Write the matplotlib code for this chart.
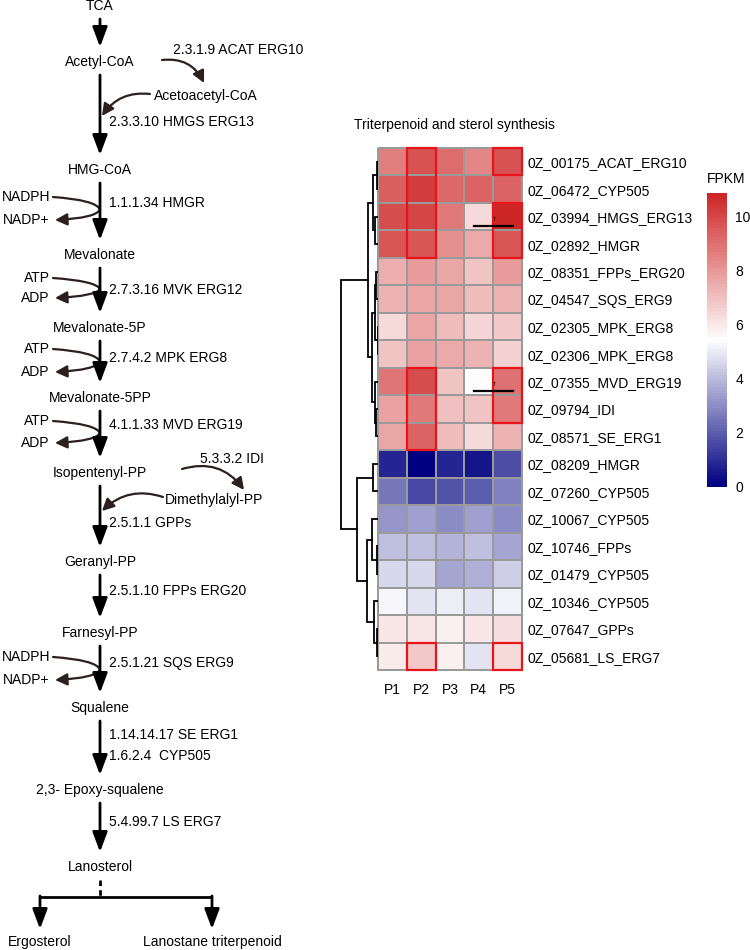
import numpy as np
import matplotlib
matplotlib.use('Agg')
import matplotlib.pyplot as plt
from matplotlib.colors import LinearSegmentedColormap
from matplotlib.patches import Rectangle, FancyArrowPatch
from matplotlib.path import Path
import matplotlib.cm as cm
import matplotlib.colors as mcolors

plt.rcParams['font.family'] = ['Liberation Sans', 'DejaVu Sans']
plt.rcParams['font.size'] = 10

# ---------------- data ----------------
genes = ['0Z_00175_ACAT_ERG10', '0Z_06472_CYP505', '0Z_03994_HMGS_ERG13',
         '0Z_02892_HMGR', '0Z_08351_FPPs_ERG20', '0Z_04547_SQS_ERG9',
         '0Z_02305_MPK_ERG8', '0Z_02306_MPK_ERG8', '0Z_07355_MVD_ERG19',
         '0Z_09794_IDI', '0Z_08571_SE_ERG1', '0Z_08209_HMGR',
         '0Z_07260_CYP505', '0Z_10067_CYP505', '0Z_10746_FPPs',
         '0Z_01479_CYP505', '0Z_10346_CYP505', '0Z_07647_GPPs',
         '0Z_05681_LS_ERG7']
samples = ['P1', 'P2', 'P3', 'P4', 'P5']

fpkm = np.array([
    [8.6, 9.7, 9.1, 8.4, 9.7],
    [9.4, 10.3, 9.2, 9.3, 9.3],
    [9.8, 10.05, 8.7, 6.3, 10.85],
    [9.6, 9.6, 8.2, 7.55, 9.6],
    [7.4, 7.9, 7.7, 6.9, 7.9],
    [7.35, 7.6, 7.7, 7.1, 7.35],
    [6.4, 7.6, 7.1, 6.5, 6.8],
    [6.85, 7.8, 7.55, 7.3, 6.55],
    [8.8, 9.8, 6.9, 5.5, 8.9],
    [7.8, 8.7, 7.05, 6.9, 8.7],
    [7.6, 9.3, 7.1, 6.4, 7.35],
    [0.85, 0.0, 0.85, 0.45, 1.7],
    [2.55, 1.6, 1.8, 2.0, 2.8],
    [3.2, 3.4, 3.0, 3.4, 3.0],
    [4.05, 4.05, 3.8, 4.05, 3.5],
    [4.57, 4.57, 3.5, 3.7, 4.35],
    [5.25, 4.8, 5.0, 4.85, 5.1],
    [6.0, 6.0, 5.8, 6.0, 6.2],
    [5.95, 6.8, 5.8, 4.8, 6.4],
])

# row clustering (scipy-like linkage: left, right, height); leaves 0..18
linkage = [
    (0, 1, 1.5), (2, 3, 3), (19, 20, 5), (6, 7, 0.5), (4, 5, 2),
    (23, 22, 3.5), (9, 10, 2.5), (8, 25, 3.5), (24, 26, 6), (21, 27, 10),
    (11, 12, 5), (14, 15, 1.5), (13, 30, 6), (17, 18, 1.5), (16, 32, 4),
    (31, 33, 11), (29, 34, 21), (28, 35, 37),
]

# highlighted cells: (column, first row, last row)
boxes = [(1, 0, 3), (4, 0, 0), (4, 2, 3), (1, 8, 10), (4, 8, 9),
         (1, 18, 18), (4, 18, 18)]
marked_rows = [2, 8]

# pathway
metabolites = ['TCA', 'Acetyl-CoA', 'HMG-CoA', 'Mevalonate', 'Mevalonate-5P',
               'Mevalonate-5PP', 'Isopentenyl-PP', 'Geranyl-PP', 'Farnesyl-PP',
               'Squalene', '2,3- Epoxy-squalene', 'Lanosterol']
met_y = [6, 62, 170, 255, 328, 398, 473, 562, 633, 708, 790, 867]
enzymes = ['2.3.3.10 HMGS ERG13', '1.1.1.34 HMGR', '2.7.3.16 MVK ERG12',
           '2.7.4.2 MPK ERG8', '4.1.1.33 MVD ERG19', '2.5.1.1 GPPs',
           '2.5.1.10 FPPs ERG20', '2.5.1.21 SQS ERG9', '1.14.14.17 SE ERG1',
           '1.6.2.4  CYP505', '5.4.99.7 LS ERG7']
enz_y = [122, 203, 290, 358, 425, 523, 591, 663, 735, 756, 822]
cofactors = [('NADPH', 'NADP+', 197, 220), ('ATP', 'ADP', 278, 298),
             ('ATP', 'ADP', 349, 372), ('ATP', 'ADP', 421, 443),
             ('NADPH', 'NADP+', 657, 680)]

W, H = 750, 950


def px_rect(x, y, w, h):
    return [x / W, 1 - (y + h) / H, w / W, h / H]


fig = plt.figure(figsize=(7.5, 9.5), dpi=100)

# ---------------- pathway diagram ----------------
ax = fig.add_axes([0, 0, 1, 1])
ax.set_xlim(0, W)
ax.set_ylim(H, 0)
ax.axis('off')

xm = 100
main_arrow = dict(arrowstyle='-|>,head_length=0.8,head_width=0.3',
                  lw=2.0, color='black', mutation_scale=15,
                  shrinkA=0, shrinkB=0)
side_col = '#2e1f1f'

for name, y in zip(metabolites, met_y):
    ax.text(xm, y, name, ha='center', va='center')
for i in range(len(met_y) - 1):
    ax.annotate('', xy=(xm, met_y[i + 1] - 15), xytext=(xm, met_y[i] + 13),
                arrowprops=main_arrow)
for name, y in zip(enzymes, enz_y):
    ax.text(xm + 9, y, name, ha='left', va='center')

# cofactor loops
for cin, cout, yi, yo in cofactors:
    ax.text(50, yi, cin, ha='right', va='center')
    ax.text(49, yo, cout, ha='right', va='center')
    ym = (yi + yo) / 2 + 1
    verts = [(53, yi), (96, yi + 3), (xm, ym), (96, yo - 2), (55, yo)]
    codes = [Path.MOVETO, Path.CURVE3, Path.CURVE3, Path.CURVE3, Path.CURVE3]
    p = FancyArrowPatch(path=Path(verts, codes),
                        arrowstyle='-|>,head_length=0.6,head_width=0.3',
                        mutation_scale=12, lw=1.6, color=side_col)
    ax.add_patch(p)

# side reactions
ax.text(173, 50, '2.3.1.9 ACAT ERG10', ha='left', va='center')
ax.text(154, 96, 'Acetoacetyl-CoA', ha='left', va='center')
ax.text(200, 459, '5.3.3.2 IDI', ha='left', va='center')
ax.text(165, 500, 'Dimethylalyl-PP', ha='left', va='center')
side_arrows = [((162, 60), (204, 83), -0.35), ((150, 94), (102, 116), 0.3),
               ((182, 469), (244, 490), -0.35), ((163, 497), (102, 511), 0.3)]
for a, b, r in side_arrows:
    ax.annotate('', xy=b, xytext=a,
                arrowprops=dict(arrowstyle='-|>,head_length=0.6,head_width=0.3',
                                mutation_scale=12, lw=1.6, color=side_col,
                                shrinkA=0, shrinkB=0,
                                connectionstyle='arc3,rad=%s' % r))

# lanosterol branch
ax.plot([xm, xm], [880, 897], color='black', lw=2, ls=(0, (2, 1.5)))
ax.plot([40, 212], [897, 897], color='black', lw=2, solid_capstyle='butt')
for xb, name in zip([40, 212], ['Ergosterol', 'Lanostane triterpenoid']):
    ax.annotate('', xy=(xb, 929), xytext=(xb, 896), arrowprops=main_arrow)
    ax.text(xb, 942, name, ha='center', va='center')

# ---------------- heatmap ----------------
vmax = fpkm.max()
cmap = LinearSegmentedColormap.from_list('nwr', ['#000080', '#ffffff', '#cd2626'], N=100)
nr, nc = fpkm.shape

ax_hm = fig.add_axes(px_rect(378, 148, 144, 522))
mesh = ax_hm.pcolormesh(fpkm, cmap=cmap, vmin=0, vmax=vmax,
                        edgecolors='#9a9a9a', linewidth=1.3)
mesh.set_clip_on(False)
ax_hm.set_xlim(0, nc)
ax_hm.set_ylim(nr, 0)
for s in ax_hm.spines.values():
    s.set_visible(False)
ax_hm.yaxis.tick_right()
ax_hm.set_yticks(np.arange(nr) + 0.5)
ax_hm.set_yticklabels(genes)
ax_hm.set_xticks(np.arange(nc) + 0.5)
ax_hm.set_xticklabels(samples)
ax_hm.tick_params(length=0)
ax_hm.tick_params(axis='y', pad=4)
ax_hm.tick_params(axis='x', pad=9)
ax_hm.set_title('Triterpenoid and sterol synthesis', fontsize=10, pad=14, x=0.53)

for c, r0, r1 in boxes:
    ax_hm.add_patch(Rectangle((c, r0), 1, r1 - r0 + 1, fill=False,
                              edgecolor='#e8141c', lw=1.6, clip_on=False, zorder=5))
for r in marked_rows:
    ax_hm.plot([3.33, 4.68], [r + 0.83, r + 0.83], color='black', lw=1.6, zorder=6)
    ax_hm.text(4.03, r + 0.6, 'T', fontsize=4, ha='center', va='center', zorder=6)

# ---------------- dendrogram ----------------
ax_d = fig.add_axes(px_rect(330, 148, 48, 522))
ax_d.set_xlim(48, 0)
ax_d.set_ylim(nr, 0)
ax_d.axis('off')
pos = {i: (i + 0.5, 0.0) for i in range(nr)}
for k, (a, b, h) in enumerate(linkage):
    ya, ha = pos[a]
    yb, hb = pos[b]
    ax_d.plot([ha, h, h, hb], [ya, ya, yb, yb], color='black', lw=1.3,
              solid_joinstyle='miter')
    pos[nr + k] = ((ya + yb) / 2, h)

# ---------------- colour bar ----------------
ax_cb = fig.add_axes(px_rect(707, 193, 20, 294))
sm = cm.ScalarMappable(norm=mcolors.Normalize(0, vmax), cmap=cmap)
cb = fig.colorbar(sm, cax=ax_cb, ticks=[0, 2, 4, 6, 8, 10])
cb.outline.set_visible(False)
ax_cb.tick_params(length=0, pad=6, labelsize=10)
fig.text(707 / W, 1 - 179 / H, 'FPKM', ha='left', va='center', fontsize=10)

fig.savefig('out.png', dpi=100)
